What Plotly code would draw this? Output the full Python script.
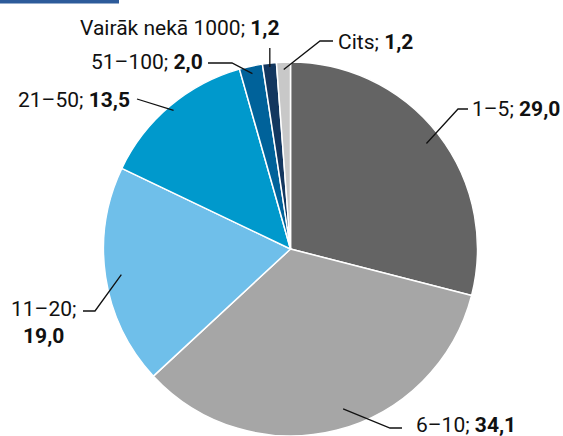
import math
import plotly.graph_objects as go

# ---- data ----
categories = ["1–5", "6–10", "11–20", "21–50", "51–100", "Vairāk nekā 1000", "Cits"]
values = [29.0, 34.1, 19.0, 13.5, 2.0, 1.2, 1.2]
value_labels = ["29,0", "34,1", "19,0", "13,5", "2,0", "1,2", "1,2"]
colors = ["#646464", "#a6a6a6", "#6fbfea", "#0099cc", "#00629a", "#13375f", "#c8c8c8"]

W, H = 563, 436
ML, MR, MT, MB = 103, 85, 62, 0
PW, PH = W - ML - MR, H - MT - MB
R = min(PW, PH) / 2
CX, CY = ML + PW / 2, MT + PH / 2


def px(x):
    return (x - ML) / PW


def py(y):
    return (H - MB - y) / PH


fig = go.Figure(go.Pie(
    labels=categories, values=values, sort=False, direction="clockwise",
    rotation=0, textinfo="none", hoverinfo="label+value",
    marker=dict(colors=colors, line=dict(color="white", width=1.5)),
    showlegend=False,
))

# label layout (style): radius fraction of anchor, angular nudge, elbow point, end point, text spec
layout_spec = [
    dict(rf=0.92, nudge=0, elbow=(458, 109), end=(468, 109), tx=470, ty=109, xa="left"),
    dict(rf=0.90, nudge=-4, elbow=(390, 428), end=(402, 428), tx=414, ty=425, xa="left"),
    dict(rf=0.915, nudge=0, elbow=(95, 311), end=(83, 311), tx=43, ty=322, xa="center", two=True),
    dict(rf=0.97, nudge=0, elbow=None, end=(137, 99), tx=132, ty=100, xa="right"),
    dict(rf=0.96, nudge=0, elbow=(232, 63), end=(208, 63), tx=205, ty=62, xa="right"),
    dict(rf=0.98, nudge=0, elbow=None, end=None, tx=282, ty=28, xa="right", vertical=True),
    dict(rf=0.96, nudge=0, elbow=(320, 41), end=(333, 41), tx=336, ty=42, xa="left"),
]

total = sum(values)
cum = 0.0
shapes = []
annotations = []
for cat, v, vl, spec in zip(categories, values, value_labels, layout_spec):
    mid = (cum + v / 2) / total * 2 * math.pi + math.radians(spec["nudge"])
    cum += v
    ax = CX + spec["rf"] * R * math.sin(mid)
    ay = CY - spec["rf"] * R * math.cos(mid)
    pts = [(ax, ay)]
    if spec.get("vertical"):
        pts.append((ax, 48))
    else:
        if spec["elbow"]:
            pts.append(spec["elbow"])
        pts.append(spec["end"])
    path = "M " + " L ".join(f"{px(x):.5f},{py(y):.5f}" for x, y in pts)
    shapes.append(dict(type="path", xref="paper", yref="paper", path=path,
                       line=dict(color="#111111", width=1.3)))
    if spec.get("two"):
        text = f"{cat};<br><b>{vl}</b>"
    else:
        text = f"{cat}; <b>{vl}</b>"
    annotations.append(dict(
        x=px(spec["tx"]), y=py(spec["ty"]), xref="paper", yref="paper",
        text=text, showarrow=False, xanchor=spec["xa"], yanchor="middle",
        align="center", font=dict(size=21, color="#111111"),
    ))

# top-left accent bar
shapes.append(dict(type="rect", xref="paper", yref="paper",
                   x0=px(0), x1=px(119), y0=py(0), y1=py(3.5),
                   fillcolor="#2d5b9a", line=dict(width=0)))

fig.update_layout(
    width=W, height=H,
    margin=dict(l=ML, r=MR, t=MT, b=MB, autoexpand=False),
    paper_bgcolor="white", plot_bgcolor="white",
    font=dict(family="Roboto, sans-serif", size=21, color="#111111"),
    shapes=shapes, annotations=annotations,
)

fig.write_html("out.html",
               config={"displayModeBar": False},
               post_script="document.body.style.margin='0';document.body.style.overflow='hidden';")
